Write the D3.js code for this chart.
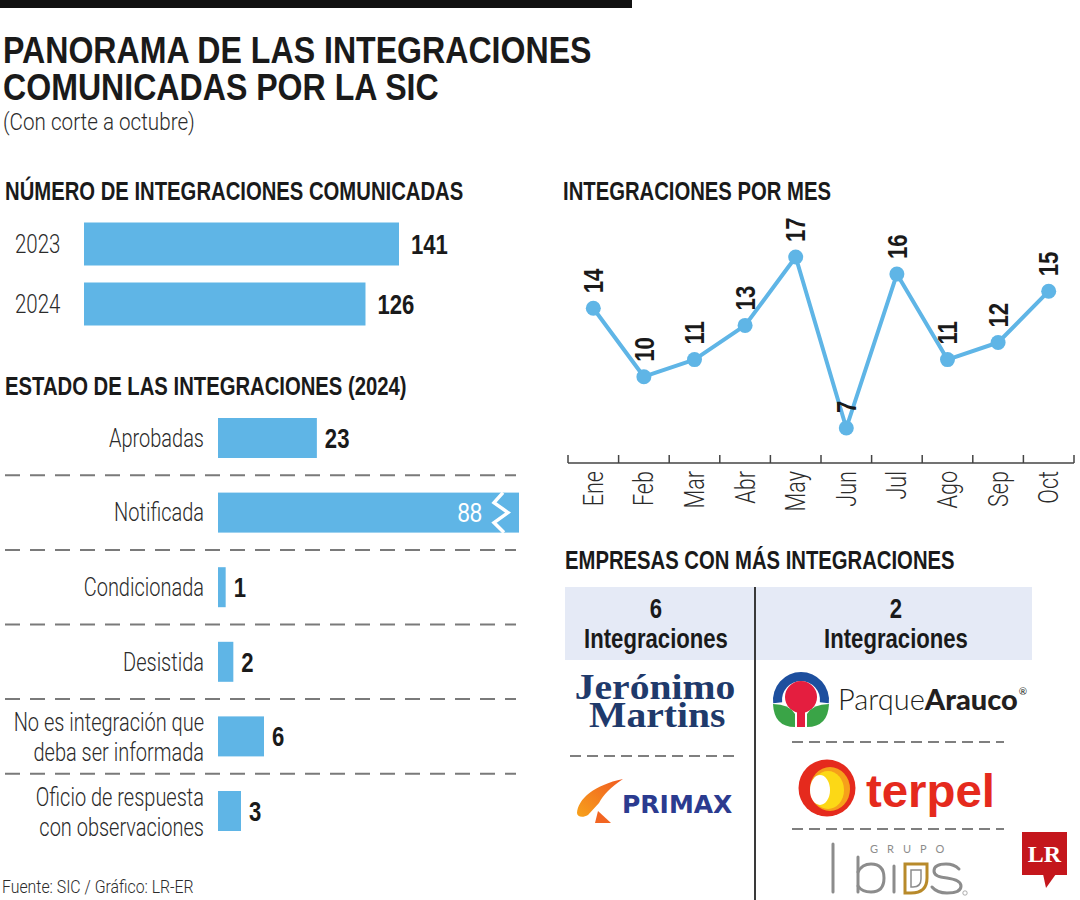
<!DOCTYPE html>
<html>
<head>
<meta charset="utf-8">
<script src="https://cdn.jsdelivr.net/npm/d3@7"></script>
<style>
  html, body { margin: 0; padding: 0; background: #ffffff; }
  svg { display: block; }
</style>
</head>
<body>
<script>
// ---------------- DATA ----------------
const titleLines = ["PANORAMA DE LAS INTEGRACIONES", "COMUNICADAS POR LA SIC"];
const subtitle = "(Con corte a octubre)";
const source = "Fuente: SIC / Gráfico: LR-ER";

const yearCats = ["2023", "2024"];
const yearVals = [141, 126];

const statusCats = [
  ["Aprobadas"],
  ["Notificada"],
  ["Condicionada"],
  ["Desistida"],
  ["No es integración que", "deba ser informada"],
  ["Oficio de respuesta", "con observaciones"]
];
const statusVals = [23, 88, 1, 2, 6, 3];

const months = ["Ene", "Feb", "Mar", "Abr", "May", "Jun", "Jul", "Ago", "Sep", "Oct"];
const monthVals = [14, 10, 11, 13, 17, 7, 16, 11, 12, 15];

const companyCounts = ["6", "2"];
const companyUnit = "Integraciones";

// ---------------- STYLE ----------------
const BOLDF = "'Liberation Sans', Arial, sans-serif";
const LIGHTF = "Roboto, 'Liberation Sans', sans-serif";
const BLUE = "#5fb5e6";
const INK = "#1a1a1a";
const GREYTXT = "#2b2b2b";
const DASH_GRAY = "#7a7a7a";

const svg = d3.select("body").append("svg")
  .attr("width", 1080).attr("height", 900);

// condensed text helper: horizontal scale about the anchor point
function T(parent, x, y, str, o) {
  o = Object.assign({ size: 24, weight: "normal", family: LIGHTF, anchor: "start", fill: INK, sx: 0.82, rot: 0, dy: null }, o);
  const t = parent.append("text")
    .attr("transform", `translate(${x},${y})` + (o.rot ? ` rotate(${o.rot})` : "") + ` scale(${o.sx},1)`)
    .attr("text-anchor", o.anchor).attr("font-family", o.family).attr("font-size", o.size)
    .attr("font-weight", o.weight).attr("fill", o.fill).text(str);
  if (o.dy) t.attr("dy", o.dy);
  return t;
}

// top rule
svg.append("rect").attr("x", 0).attr("y", 0).attr("width", 632).attr("height", 8).attr("fill", "#111");

// title
titleLines.forEach((t, i) => {
  T(svg, 3, 63 + i * 37, t, { family: BOLDF, weight: "bold", size: 37, sx: 0.868 });
});
T(svg, 3, 130, subtitle, { size: 24, sx: 0.86, weight: 300, fill: GREYTXT });

function heading(x, y, t) {
  T(svg, x, y, t, { family: BOLDF, weight: "bold", size: 26, sx: 0.78 });
}
heading(5, 200, "NÚMERO DE INTEGRACIONES COMUNICADAS");
heading(5, 395, "ESTADO DE LAS INTEGRACIONES (2024)");
heading(563, 200, "INTEGRACIONES POR MES");
heading(565, 569, "EMPRESAS CON MÁS INTEGRACIONES");

// ---------------- YEAR BARS ----------------
const xYear = d3.scaleLinear().domain([0, 141]).range([84, 399]);
const yYear = d3.scalePoint().domain(yearCats).range([244, 304]);
const gYear = svg.append("g");
yearCats.forEach((c, i) => {
  const cy = yYear(c);
  gYear.append("rect").attr("x", xYear(0)).attr("y", cy - 21.5)
    .attr("width", xYear(yearVals[i]) - xYear(0)).attr("height", 43).attr("fill", BLUE);
  T(gYear, 15, cy, c, { size: 25, sx: 0.82, weight: 300, fill: GREYTXT, dy: "0.35em" });
  T(gYear, xYear(yearVals[i]) + 12, cy, yearVals[i], { family: BOLDF, weight: "bold", size: 27, sx: 0.82, dy: "0.36em" });
});

// ---------------- STATUS BARS ----------------
const xStat = d3.scaleLinear().domain([0, 6, 88]).range([218, 264, 519]);
const yStat = d3.scalePoint().domain(d3.range(statusCats.length)).range([438, 811]);
const stepS = yStat.step();
const gStat = svg.append("g");
statusCats.forEach((lines, i) => {
  const cy = yStat(i);
  if (i > 0) {
    gStat.append("line").attr("x1", 5).attr("x2", 516)
      .attr("y1", cy - stepS / 2).attr("y2", cy - stepS / 2)
      .attr("stroke", DASH_GRAY).attr("stroke-width", 2).attr("stroke-dasharray", "15,10");
  }
  const x1 = xStat(statusVals[i]);
  gStat.append("rect").attr("x", xStat(0)).attr("y", cy - 20)
    .attr("width", x1 - xStat(0)).attr("height", 40).attr("fill", BLUE);
  lines.forEach((ln, j) => {
    const off = lines.length === 1 ? 0 : (j === 0 ? -14 : 16);
    T(gStat, 204, cy + off, ln, { anchor: "end", size: 25, sx: 0.8, weight: 300, fill: GREYTXT, dy: "0.35em" });
  });
  if (statusVals[i] === d3.max(statusVals)) {
    const zz = [[x1 - 16, cy - 20], [x1 - 25, cy - 10], [x1 - 11, cy], [x1 - 25, cy + 10], [x1 - 15, cy + 20]];
    gStat.append("path").attr("d", d3.line()(zz)).attr("fill", "none")
      .attr("stroke", "#fff").attr("stroke-width", 3.5);
    T(gStat, x1 - 37, cy, statusVals[i], { anchor: "end", family: BOLDF, size: 27, sx: 0.82, fill: "#fff", dy: "0.36em" });
  } else {
    T(gStat, x1 + 8, cy, statusVals[i], { family: BOLDF, weight: "bold", size: 27, sx: 0.82, dy: "0.36em" });
  }
});

T(svg, 2, 893, source, { size: 18, sx: 0.88, weight: 300, fill: GREYTXT });

// ---------------- LINE CHART ----------------
const xM = d3.scaleBand().domain(months).range([568, 1074]);
const yM = d3.scaleLinear().domain([7, 17]).range([428, 257]);
const axisY = 463;
const gL = svg.append("g");
gL.append("line").attr("x1", xM.range()[0]).attr("x2", xM.range()[1])
  .attr("y1", axisY).attr("y2", axisY).attr("stroke", "#444").attr("stroke-width", 1.5);
const bounds = months.map(m => xM(m)).concat([xM.range()[1]]);
bounds.forEach(bx => {
  gL.append("line").attr("x1", bx).attr("x2", bx).attr("y1", axisY).attr("y2", axisY - 8)
    .attr("stroke", "#444").attr("stroke-width", 1.5);
});
months.forEach(m => {
  const cx = xM(m) + xM.bandwidth() / 2;
  T(gL, cx, axisY + 8, m, { rot: -90, anchor: "end", size: 27, sx: 0.8, weight: 300, fill: GREYTXT, dy: "0.35em" });
});
const pts = months.map((m, i) => [xM(m) + xM.bandwidth() / 2, yM(monthVals[i])]);
gL.append("path").attr("d", d3.line()(pts)).attr("fill", "none")
  .attr("stroke", BLUE).attr("stroke-width", 4).attr("stroke-linejoin", "round");
pts.forEach((p, i) => {
  gL.append("circle").attr("cx", p[0]).attr("cy", p[1]).attr("r", 7.5).attr("fill", BLUE);
  T(gL, p[0], p[1] - 15, monthVals[i], { rot: -90, family: BOLDF, weight: "bold", size: 27, sx: 0.82, dy: "0.36em" });
});

// ---------------- COMPANIES TABLE ----------------
const gT = svg.append("g");
gT.append("rect").attr("x", 565).attr("y", 587).attr("width", 467).attr("height", 73).attr("fill", "#e5eaf6");
gT.append("line").attr("x1", 755).attr("x2", 755).attr("y1", 587).attr("y2", 900)
  .attr("stroke", "#3a3a3a").attr("stroke-width", 2);
const colX = [656, 896];
companyCounts.forEach((c, i) => {
  T(gT, colX[i], 618, c, { anchor: "middle", family: BOLDF, weight: "bold", size: 27, sx: 0.82 });
  T(gT, colX[i], 648, companyUnit, { anchor: "middle", family: BOLDF, weight: "bold", size: 27, sx: 0.82 });
});
function dash(x1, x2, y) {
  gT.append("line").attr("x1", x1).attr("x2", x2).attr("y1", y).attr("y2", y)
    .attr("stroke", "#555").attr("stroke-width", 1.5).attr("stroke-dasharray", "11,6");
}
dash(570, 740, 756);
dash(792, 1004, 742);
dash(792, 1004, 829);

// Jerónimo Martins (single text, two lines)
const jm = gT.append("text").attr("text-anchor", "middle")
  .attr("font-family", "'Liberation Serif', 'DejaVu Serif', serif").attr("font-weight", "bold")
  .attr("font-size", 36).attr("fill", "#1f3a6b")
  .attr("transform", "translate(655,0) scale(1.1,1)");
jm.append("tspan").attr("x", 0).attr("y", 699).text("Jerónimo");
jm.append("tspan").attr("x", 2).attr("y", 727).text("Martins");

// Primax
const defs = svg.append("defs");
const gr = defs.append("linearGradient").attr("id", "pmx").attr("x1", "0").attr("y1", "1").attr("x2", "1").attr("y2", "0");
gr.append("stop").attr("offset", "0").attr("stop-color", "#f7a21b");
gr.append("stop").attr("offset", "1").attr("stop-color", "#f05a22");
gT.append("path").attr("d", "M577,813 C578,799 594,785 623,779 C611,787 603,795 599,803 L588,815 C583,818 577,817 577,813 Z")
  .attr("fill", "url(#pmx)");
gT.append("path").attr("d", "M598,811 L611,823 L595,823 Z").attr("fill", "#f26522");
gT.append("text").attr("x", 622).attr("y", 813)
  .attr("font-family", "'DejaVu Sans', sans-serif").attr("font-weight", "bold")
  .attr("font-size", 25).attr("fill", "#2b3b8f").text("PRIMAX");

// Parque Arauco
const pa = gT.append("g");
const arcBlue = d3.arc().innerRadius(19).outerRadius(28).startAngle(-Math.PI / 2 - 0.12).endAngle(Math.PI / 2 + 0.12);
pa.append("path").attr("d", arcBlue()).attr("transform", "translate(801,700)").attr("fill", "#1d4f9e");
pa.append("circle").attr("cx", 801).attr("cy", 697).attr("r", 16).attr("fill", "#e41e3f");
pa.append("rect").attr("x", 797).attr("y", 700).attr("width", 8).attr("height", 27).attr("fill", "#e41e3f");
pa.append("path").attr("d", "M773,704 Q774,727 795,727 L795,714 Q789,704 773,704 Z").attr("fill", "#3aa447");
pa.append("path").attr("d", "M829,704 Q828,727 807,727 L807,714 Q813,704 829,704 Z").attr("fill", "#3aa447");
const paT = pa.append("text").attr("x", 838).attr("y", 710)
  .attr("font-family", "Lato, 'Open Sans', sans-serif").attr("font-size", 29).attr("fill", "#231f20");
paT.append("tspan").attr("font-weight", 300).text("Parque");
paT.append("tspan").attr("font-weight", 900).text("Arauco");
paT.append("tspan").attr("font-size", 10).attr("dy", -15).attr("dx", 1).text("®");

// Terpel
const tp = gT.append("g");
tp.append("circle").attr("cx", 827).attr("cy", 788).attr("r", 28.5).attr("fill", "#e52a1d");
tp.append("ellipse").attr("cx", 830).attr("cy", 789).attr("rx", 20).attr("ry", 22).attr("fill", "#f6a01a");
tp.append("ellipse").attr("cx", 828).attr("cy", 790).attr("rx", 16).attr("ry", 19).attr("fill", "#fcd816");
tp.append("ellipse").attr("cx", 820).attr("cy", 790).attr("rx", 10).attr("ry", 15).attr("fill", "#ffffff");
tp.append("text").attr("x", 866).attr("y", 807)
  .attr("font-family", "'Liberation Sans', Arial, sans-serif").attr("font-weight", "bold")
  .attr("font-size", 46).attr("fill", "#e52a1d").attr("transform", "translate(866,0) scale(1.03,1) translate(-866,0)")
  .text("terpel");

// Grupo Bios (logo drawn with thin strokes)
const gb = gT.append("g").attr("fill", "none").attr("stroke", "#8c8c8c").attr("stroke-width", 3).attr("stroke-linecap", "round");
gb.append("line").attr("x1", 833).attr("x2", 833).attr("y1", 844).attr("y2", 892);
gb.append("line").attr("x1", 858).attr("x2", 858).attr("y1", 857).attr("y2", 892);
gb.append("path").attr("d", "M858,872 Q862,864 871,864 Q884,864 884,878 Q884,892 871,892 Q862,892 858,886");
gb.append("line").attr("x1", 894).attr("x2", 894).attr("y1", 866).attr("y2", 892);
gb.append("path").attr("d", "M905,864 L927,864 L927,878 Q927,893 911,893 L905,893 Z").attr("stroke", "#b88a2a");
gb.append("path").attr("d", "M911,870 L921,870 L921,879 Q921,887 913,887 L911,887 Z").attr("stroke-width", 1.5);
gb.append("path").attr("d", "M959,869 Q954,864 946,864 Q934,864 934,871 Q934,877 947,878 Q961,880 961,886 Q961,893 947,893 Q937,893 932,887");
gT.append("text").attr("x", 870).attr("y", 853).attr("letter-spacing", 9)
  .attr("font-family", "Lato, sans-serif").attr("font-size", 11).attr("fill", "#8c8c8c").text("GRUPO");
gT.append("circle").attr("cx", 965).attr("cy", 893).attr("r", 2.2).attr("fill", "none").attr("stroke", "#8c8c8c").attr("stroke-width", 0.7);

// LR logo
const lr = svg.append("g");
lr.append("rect").attr("x", 1022).attr("y", 832).attr("width", 45).attr("height", 43).attr("fill", "#c4161c");
lr.append("path").attr("d", "M1043,874 L1056,874 L1046,888 Z").attr("fill", "#c4161c");
lr.append("text").attr("x", 1044.5).attr("y", 862).attr("text-anchor", "middle")
  .attr("font-family", "'Liberation Serif', serif").attr("font-weight", "bold")
  .attr("font-size", 24).attr("fill", "#fff").text("LR");
</script>
</body>
</html>
